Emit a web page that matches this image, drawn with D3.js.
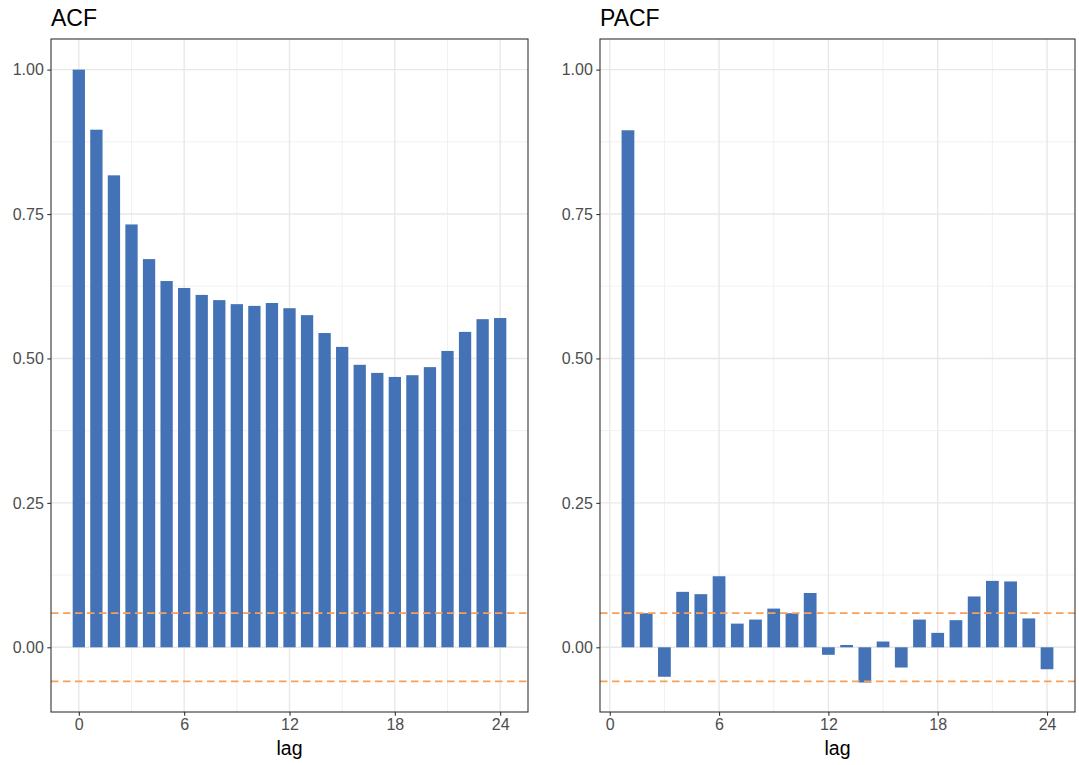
<!DOCTYPE html>
<html>
<head>
<meta charset="utf-8">
<script src="https://cdn.jsdelivr.net/npm/d3@7"></script>
<style>
  body { margin: 0; background: #fff; }
  svg text { font-family: "Liberation Sans", Arial, sans-serif; }
</style>
</head>
<body>
<svg id="chart" width="1079" height="765"></svg>
<script>
const acfLags = d3.range(0, 25);
const acfValues = [1.000, 0.896, 0.817, 0.732, 0.672, 0.634, 0.622, 0.610, 0.601, 0.594,
                   0.591, 0.596, 0.587, 0.575, 0.544, 0.520, 0.489, 0.475, 0.468, 0.471,
                   0.485, 0.513, 0.546, 0.568, 0.570];
const pacfLags = d3.range(1, 25);
const pacfValues = [0.895, 0.059, -0.051, 0.096, 0.092, 0.123, 0.041, 0.048, 0.067, 0.059,
                    0.094, -0.013, 0.004, -0.061, 0.010, -0.035, 0.048, 0.025, 0.047, 0.088,
                    0.115, 0.114, 0.050, -0.038];
const confBound = 0.059;
const xTicks = [0, 6, 12, 18, 24];
const xMinor = [3, 9, 15, 21];
const yTicks = [0, 0.25, 0.5, 0.75, 1.0];
const yMinor = [0.125, 0.375, 0.625, 0.875];
const panelTitles = ["ACF", "PACF"];

const svg = d3.select("#chart");
const barColor = "#4472B6";
const confColor = "#FA9F55";

function panel(opts) {
  const { left, right, top, bottom, xDomain, lags, values, title } = opts;
  const x = d3.scaleLinear().domain(xDomain).range([left, right]);
  const y = d3.scaleLinear().domain([-confBound - 0.053, 1.053]).range([bottom, top]);
  const g = svg.append("g");

  // minor grid
  g.selectAll(".xm").data(xMinor).enter().append("line")
    .attr("x1", d => x(d)).attr("x2", d => x(d)).attr("y1", top).attr("y2", bottom)
    .attr("stroke", "#EBEBEB").attr("stroke-width", 0.7);
  g.selectAll(".ym").data(yMinor).enter().append("line")
    .attr("x1", left).attr("x2", right).attr("y1", d => y(d)).attr("y2", d => y(d))
    .attr("stroke", "#EBEBEB").attr("stroke-width", 0.7);
  // major grid
  g.selectAll(".xM").data(xTicks).enter().append("line")
    .attr("x1", d => x(d)).attr("x2", d => x(d)).attr("y1", top).attr("y2", bottom)
    .attr("stroke", "#E8E8E8").attr("stroke-width", 1.4);
  g.selectAll(".yM").data(yTicks).enter().append("line")
    .attr("x1", left).attr("x2", right).attr("y1", d => y(d)).attr("y2", d => y(d))
    .attr("stroke", "#E8E8E8").attr("stroke-width", 1.4);

  // bars
  const bw = 0.7;
  g.selectAll(".bar").data(lags.map((l, i) => ({ l, v: values[i] }))).enter().append("rect")
    .attr("x", d => x(d.l - bw / 2))
    .attr("width", d => x(d.l + bw / 2) - x(d.l - bw / 2))
    .attr("y", d => y(Math.max(0, d.v)))
    .attr("height", d => Math.abs(y(d.v) - y(0)))
    .attr("fill", barColor);

  // confidence lines
  [confBound, -confBound].forEach(c => {
    g.append("line")
      .attr("x1", left).attr("x2", right).attr("y1", y(c)).attr("y2", y(c))
      .attr("stroke", confColor).attr("stroke-width", 1.8)
      .attr("stroke-dasharray", "7.5,4.5");
  });

  // border
  g.append("rect").attr("x", left).attr("y", top)
    .attr("width", right - left).attr("height", bottom - top)
    .attr("fill", "none").attr("stroke", "#333333").attr("stroke-width", 1.1);

  // axes
  const xAxis = d3.axisBottom(x).tickValues(xTicks).tickFormat(d3.format("d"))
    .tickSize(3.7).tickPadding(3);
  const ax = g.append("g").attr("transform", `translate(0,${bottom})`).call(xAxis);
  ax.select(".domain").remove();
  ax.selectAll(".tick line").attr("stroke", "#333333").attr("stroke-width", 1.1);
  ax.selectAll(".tick text").attr("fill", "#4D4D4D").style("font-size", "16px");

  const yAxis = d3.axisLeft(y).tickValues(yTicks).tickFormat(d3.format(".2f"))
    .tickSize(3.7).tickPadding(3.5);
  const ay = g.append("g").attr("transform", `translate(${left},0)`).call(yAxis);
  ay.select(".domain").remove();
  ay.selectAll(".tick line").attr("stroke", "#333333").attr("stroke-width", 1.1);
  ay.selectAll(".tick text").attr("fill", "#4D4D4D").style("font-size", "16px");

  // labels
  g.append("text").attr("x", (left + right) / 2).attr("y", 755)
    .attr("text-anchor", "middle").attr("fill", "#000")
    .style("font-size", "19.5px").text("lag");
  g.append("text").attr("x", left).attr("y", 26)
    .attr("fill", "#000").style("font-size", "23px").text(title);
}

panel({ left: 51, right: 528, top: 39, bottom: 712, xDomain: [-1.585, 25.585],
        lags: acfLags, values: acfValues, title: panelTitles[0] });
panel({ left: 600, right: 1075, top: 39, bottom: 712, xDomain: [-0.535, 25.535],
        lags: pacfLags, values: pacfValues, title: panelTitles[1] });
</script>
</body>
</html>
